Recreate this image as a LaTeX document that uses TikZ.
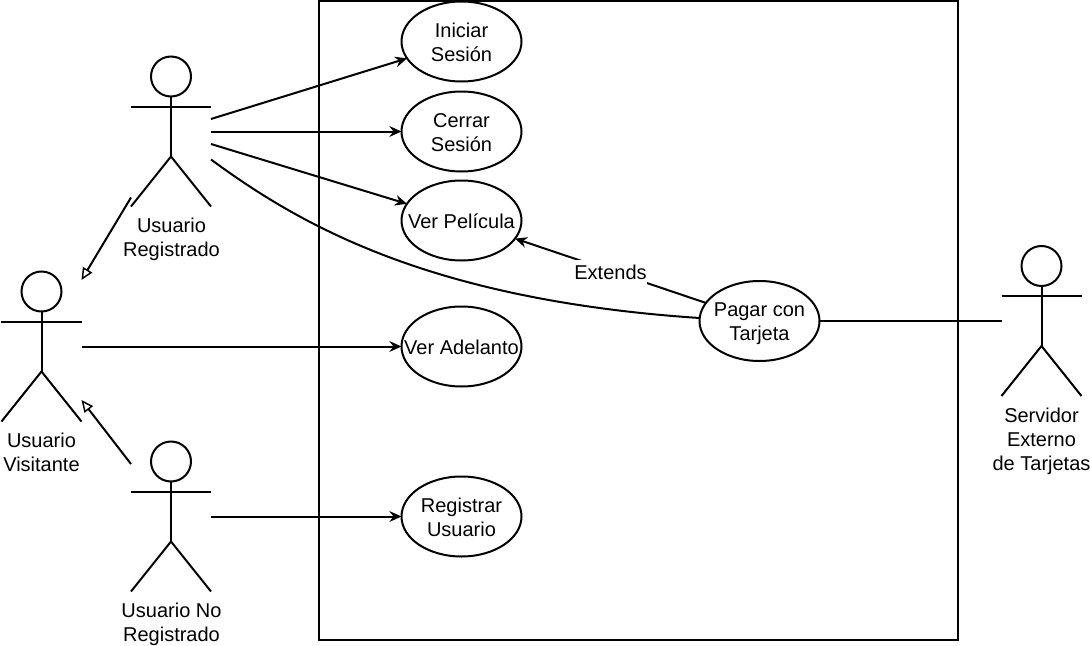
\documentclass[tikz,border=0pt]{standalone}
\usepackage{fontspec}
\setmainfont{Liberation Sans}
\usetikzlibrary{arrows.meta,calc,shapes.geometric}
\tikzset{
  x=0.75pt,y=-0.75pt,
  every node/.style={font=\fontsize{15}{18}\selectfont,text=black},
  line/.style={draw=black,line width=1.5pt},
  actorbox/.style={rectangle,minimum width=60pt,minimum height=112.5pt,inner sep=0pt,outer sep=0pt},
  usecase/.style={ellipse,line,minimum width=90pt,minimum height=60pt,inner sep=0pt,outer sep=0pt},
  caption/.style={align=center,inner sep=0pt},
  assoc/.style={line,-{Stealth[length=9pt,width=8pt,inset=3pt]}},
  general/.style={line,-{Triangle[open,length=9pt,width=8pt,line width=1.1pt]}},
  stickfig/.style={line,line cap=butt},
}
\newcommand{\uctext}[1]{\raisebox{-5.9pt}[0pt][0pt]{\makebox[0pt][c]{\begin{tabular}{@{}c@{}}#1\end{tabular}}}}
\newcommand{\stickman}[1]{%
  \draw[stickfig] ($(#1.center)+(0,-55)$) circle[radius=15pt];
  \draw[stickfig] ($(#1.center)+(0,-35)$) -- ($(#1.center)+(0,25)$);
  \draw[stickfig] ($(#1.center)+(-40,-25)$) -- ($(#1.center)+(40,-25)$);
  \draw[stickfig] ($(#1.center)+(-40,75)$) -- ($(#1.center)+(0,25)$) -- ($(#1.center)+(40,75)$);
}
\begin{document}
\begin{tikzpicture}
\useasboundingbox (0,0) rectangle (1090,646);
\node[line,rectangle,minimum width=479.25pt,minimum height=479.6pt,inner sep=0pt,outer sep=0pt] (system) at (638.5,320.5) {};
% use cases
\node[usecase] (iniciar) at (461.5,41.5) {\uctext{Iniciar\\Sesión}};
\node[usecase] (cerrar) at (461.5,131.5) {\uctext{Cerrar\\Sesión}};
\node[usecase] (ver) at (461.5,220.5) {\uctext{Ver Película}};
\node[usecase] (adelanto) at (461.5,346.5) {\uctext{Ver Adelanto}};
\node[usecase] (registrar) at (461.5,516.5) {\uctext{Registrar\\Usuario}};
\node[usecase] (pagar) at (759.5,321) {\uctext{Pagar con\\Tarjeta}};
% actors
\node[actorbox] (reg) at (171,131.5) {};
\node[actorbox] (vis) at (41.5,346.5) {};
\node[actorbox] (noreg) at (171,516.5) {};
\node[actorbox] (serv) at (1041.5,321) {};
\stickman{reg}\stickman{vis}\stickman{noreg}\stickman{serv}
\node[caption,anchor=north] (lreg) at (171.5,218) {Usuario\\Registrado};
\node[caption,anchor=north] (lvis) at (41.5,433) {Usuario\\Visitante};
\node[caption,anchor=north] (lnoreg) at (171.5,603) {Usuario No\\Registrado};
\node[caption,anchor=north] (lserv) at (1041.5,408) {Servidor\\Externo\\de Tarjetas};
% connector ends
\coordinate (regA) at ($(reg.east)+(0,-12.5)$);
\coordinate (regB) at ($(reg.east)+(0,12.5)$);
\coordinate (regC) at ($(reg.east)+(0,28)$);
\coordinate (regD) at ($(reg.west)+(0,66)$);
\coordinate (visT) at ($(vis.east)+(0,-66.5)$);
\coordinate (visB) at ($(vis.east)+(0,53.5)$);
\coordinate (noregT) at ($(noreg.west)+(0,-52.5)$);
\coordinate (pagarW) at ($(pagar.west)+(0,-3)$);
% connectors
\draw[assoc] (regA) -- (iniciar);
\draw[assoc] (reg.east) -- (cerrar);
\draw[assoc] (regB) -- (ver);
\draw[line] (regC) .. controls (300,225) and (430,300) .. (pagarW);
\draw[assoc] (vis.east) -- (adelanto);
\draw[assoc] (noreg.east) -- (registrar);
\draw[line] (pagar) -- (serv);
\draw[general] (regD) -- (visT);
\draw[general] (noregT) -- (visB);
\draw[assoc] (pagar) -- node[fill=white,inner xsep=0pt,inner ysep=0pt,minimum height=18pt,yshift=-1.2pt,pos=0.5] (ext) {Extends} (ver);
\end{tikzpicture}
\end{document}
